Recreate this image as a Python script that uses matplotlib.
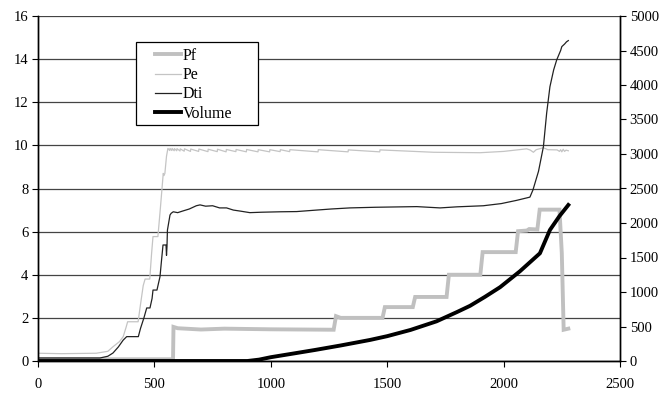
import matplotlib
matplotlib.use("Agg")
import matplotlib.pyplot as plt
from matplotlib.patches import Rectangle

plt.rcParams['font.family'] = ['Liberation Serif', 'DejaVu Serif']

# ---------------- data ----------------
pf_x = [0, 580, 582, 600, 700, 800, 1000, 1270, 1280, 1300, 1480, 1490, 1610, 1620,
        1755, 1765, 1900, 1910, 2052, 2062, 2100, 2110, 2145, 2155, 2240, 2250, 2258, 2278]
pf_y = [0.08, 0.08, 1.58, 1.52, 1.46, 1.50, 1.47, 1.45, 2.08, 2.0, 2.0, 2.5, 2.5, 2.97,
        2.97, 4.0, 4.0, 5.05, 5.05, 6.02, 6.05, 6.12, 6.1, 7.02, 7.02, 5.0, 1.45, 1.5]

pe_x = [0, 100, 250, 300, 322, 350, 366, 378, 385, 430, 440, 452, 460, 480, 488, 494, 515,
        525, 538, 541, 545, 552, 558,
        566, 567, 575, 576, 585, 586, 596, 597, 610, 611, 628, 629, 655, 656, 690, 691,
        730, 731, 770, 771, 808, 809, 850, 851, 895, 896, 945, 946, 995, 996, 1040, 1041,
        1081, 1082, 1203, 1204, 1332, 1333, 1468, 1469, 1700, 1899, 2000, 2099, 2115,
        2128, 2140, 2171, 2190, 2230, 2240, 2245, 2250, 2256, 2262, 2268, 2278]
pe_y = [0.36, 0.34, 0.36, 0.45, 0.66, 0.9, 1.13, 1.55, 1.82, 1.82, 2.6, 3.5, 3.8, 3.8, 5.0,
        5.77, 5.77, 7.0, 8.7, 8.6, 8.7, 9.5, 9.86,
        9.76, 9.86, 9.76, 9.86, 9.75, 9.85, 9.75, 9.85, 9.74, 9.84, 9.73, 9.84, 9.72, 9.83,
        9.72, 9.83, 9.71, 9.82, 9.71, 9.82, 9.70, 9.81, 9.71, 9.81, 9.70, 9.81, 9.70, 9.80,
        9.70, 9.80, 9.71, 9.80, 9.71, 9.80, 9.70, 9.80, 9.70, 9.79, 9.70, 9.79, 9.68, 9.66,
        9.72, 9.84, 9.78, 9.68, 9.80, 9.89, 9.80, 9.79, 9.72, 9.80, 9.70, 9.82, 9.72, 9.78, 9.75]

dti_x = [0, 266, 300, 322, 345, 366, 381, 431, 440, 455, 467, 481, 490, 494, 511, 524, 530,
         537, 550, 552, 554, 556, 567, 572, 581, 600, 620, 650, 680, 696, 720, 750, 780, 810,
         839, 870, 910, 960, 1040, 1111, 1197, 1260, 1340, 1450, 1627, 1727, 1800, 1913,
         1990, 2056, 2113, 2126, 2150, 2171, 2185, 2199, 2215, 2228, 2245, 2250, 2262, 2270, 2278]
dti_y = [0.14, 0.14, 0.22, 0.37, 0.65, 0.97, 1.13, 1.13, 1.5, 2.0, 2.46, 2.46, 2.9, 3.29,
         3.29, 3.91, 4.6, 5.38, 5.38, 4.9, 5.3, 6.07, 6.77, 6.85, 6.92, 6.88, 6.95, 7.05,
         7.2, 7.24, 7.18, 7.2, 7.1, 7.1, 7.0, 6.95, 6.88, 6.9, 6.92, 6.93, 7.0, 7.05, 7.1,
         7.13, 7.16, 7.1, 7.15, 7.2, 7.3, 7.45, 7.6, 7.93, 8.8, 9.94, 11.5, 12.72, 13.5,
         13.96, 14.4, 14.58, 14.7, 14.8, 14.86]

vol_x = [0, 900, 950, 1000, 1100, 1190, 1300, 1426, 1500, 1600, 1712, 1800, 1856, 1920,
         1985, 2070, 2156, 2199, 2240, 2278]
vol_y = [0, 0, 20, 55, 110, 160, 225, 305, 360, 450, 575, 710, 800, 930,
         1070, 1300, 1561, 1899, 2100, 2261]

left_ticks = [0, 2, 4, 6, 8, 10, 12, 14, 16]
right_ticks = [0, 500, 1000, 1500, 2000, 2500, 3000, 3500, 4000, 4500, 5000]
x_ticks = [0, 500, 1000, 1500, 2000, 2500]

# ---------------- figure ----------------
W, H = 662, 393
fig = plt.figure(figsize=(W / 100, H / 100), dpi=100)
ax = fig.add_axes([38 / W, 1 - 361 / H, (620 - 38) / W, (361 - 16) / H])
ax2 = ax.twinx()

ax.set_xlim(0, 2500)
ax.set_ylim(0, 16)
ax2.set_ylim(0, 5000)
ax.set_xticks(x_ticks)
ax.set_yticks(left_ticks)
ax2.set_yticks(right_ticks)

for a in (ax, ax2):
    a.spines['top'].set_visible(False)
    for s in ('left', 'right', 'bottom'):
        a.spines[s].set_color('black')
        a.spines[s].set_linewidth(1.0)
    a.tick_params(direction='out', length=4, width=0.8, labelsize=10.5, colors='black')

ax.yaxis.grid(True, color='#444444', linewidth=0.9)
ax.set_axisbelow(True)
ax.tick_params(axis='x', pad=8)
ax.tick_params(axis='y', pad=3)
ax2.tick_params(axis='y', pad=3)

l1, = ax.plot(pf_x, pf_y, color='#c0c0c0', linewidth=2.8, label='Pf', solid_joinstyle='miter')
l2, = ax.plot(pe_x, pe_y, color='#c4c4c4', linewidth=0.9, label='Pe')
l3, = ax.plot(dti_x, dti_y, color='#222222', linewidth=0.9, label='Dti')
l4, = ax2.plot(vol_x, vol_y, color='black', linewidth=2.8, label='Volume')

# legend frame (drawn separately for Excel-like padding)
frame = Rectangle((136 / W, 1 - 125 / H), (258 - 136) / W, (125 - 42) / H,
                  transform=fig.transFigure, facecolor='white', edgecolor='black',
                  linewidth=0.9, zorder=10)
ax2.add_artist(frame)
frame.set_clip_on(False)

leg = ax2.legend(handles=[l1, l2, l3, l4], loc='upper left',
                 bbox_to_anchor=(155 / W, 1 - 48 / H), bbox_transform=fig.transFigure,
                 frameon=False, fontsize=11.5, handlelength=1.6, handletextpad=0.12,
                 labelspacing=0.2, borderpad=0, borderaxespad=0)
leg.set_zorder(11)

fig.savefig('out.png', dpi=100)
